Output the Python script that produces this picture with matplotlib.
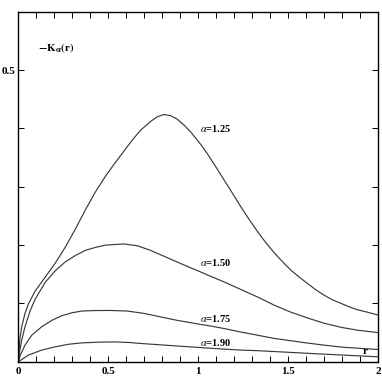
import matplotlib
matplotlib.use("Agg")
import matplotlib.pyplot as plt
from matplotlib.ticker import MultipleLocator

r_125 = [0.0, 0.0076, 0.0188, 0.037, 0.056, 0.093, 0.149, 0.205, 0.26, 0.316, 0.372, 0.428, 0.484,
         0.535, 0.567, 0.623, 0.679, 0.735, 0.772, 0.809, 0.846, 0.883, 0.92, 0.958, 1.013, 1.05,
         1.096, 1.143, 1.19, 1.236, 1.283, 1.33, 1.376, 1.422, 1.47, 1.515, 1.562, 1.608, 1.655,
         1.70, 1.747, 1.794, 1.84, 1.887, 1.94, 2.0]
k_125 = [0.0, 0.037, 0.060, 0.083, 0.099, 0.121, 0.145, 0.169, 0.196, 0.227, 0.260, 0.291, 0.318,
         0.340, 0.353, 0.376, 0.397, 0.412, 0.420, 0.424, 0.422, 0.416, 0.406, 0.394, 0.373, 0.357,
         0.335, 0.312, 0.289, 0.266, 0.244, 0.223, 0.204, 0.187, 0.171, 0.157, 0.145, 0.134, 0.123,
         0.114, 0.106, 0.100, 0.094, 0.089, 0.085, 0.080]

r_150 = [0.0, 0.0076, 0.0188, 0.037, 0.065, 0.093, 0.149, 0.205, 0.26, 0.316, 0.372, 0.428, 0.484,
         0.535, 0.586, 0.66, 0.735, 0.809, 0.883, 0.958, 1.013, 1.065, 1.143, 1.236, 1.33, 1.422,
         1.515, 1.608, 1.70, 1.794, 1.887, 2.0]
k_150 = [0.0, 0.018, 0.037, 0.060, 0.087, 0.107, 0.136, 0.156, 0.171, 0.182, 0.191, 0.196, 0.200,
         0.201, 0.202, 0.199, 0.191, 0.181, 0.171, 0.161, 0.154, 0.147, 0.137, 0.124, 0.111, 0.097,
         0.085, 0.075, 0.066, 0.059, 0.054, 0.050]

r_175 = [0.0, 0.012, 0.037, 0.075, 0.13, 0.186, 0.242, 0.298, 0.354, 0.428, 0.511, 0.604, 0.697,
         0.79, 0.883, 0.958, 1.013, 1.065, 1.143, 1.236, 1.33, 1.422, 1.515, 1.608, 1.70, 1.80,
         1.90, 2.0]
k_175 = [0.0, 0.012, 0.0285, 0.0456, 0.060, 0.071, 0.079, 0.084, 0.087, 0.0878, 0.088, 0.087, 0.083,
         0.077, 0.071, 0.067, 0.064, 0.0615, 0.057, 0.051, 0.0455, 0.040, 0.036, 0.032, 0.0285, 0.025,
         0.023, 0.021]

r_190 = [0.0, 0.056, 0.13, 0.205, 0.279, 0.354, 0.447, 0.535, 0.616, 0.697, 0.79, 0.883, 0.958,
         1.065, 1.143, 1.236, 1.33, 1.422, 1.515, 1.608, 1.70, 1.80, 1.90, 2.0]
k_190 = [0.0, 0.0114, 0.020, 0.0256, 0.030, 0.0324, 0.0336, 0.034, 0.033, 0.031, 0.029, 0.027,
         0.0255, 0.0232, 0.0217, 0.020, 0.019, 0.0175, 0.016, 0.0145, 0.013, 0.0115, 0.010, 0.0085]

series = [(r_125, k_125, r"$\alpha$=1.25", 0.40),
          (r_150, k_150, r"$\alpha$=1.50", 0.17),
          (r_175, k_175, r"$\alpha$=1.75", 0.0746),
          (r_190, k_190, r"$\alpha$=1.90", 0.0336)]

plt.rcParams['font.family'] = ['Liberation Serif', 'DejaVu Serif']
plt.rcParams['mathtext.fontset'] = 'stix'

fig = plt.figure(figsize=(3.82, 3.82), dpi=100)
ax = fig.add_axes([0.048, 0.053, 0.942, 0.916])

for r, k, lab, ly in series:
    ax.plot(r, k, color='#3a3a3a', lw=0.85)
    ax.text(1.01, ly, lab, fontsize=7.5, fontweight='bold', ha='left', va='center')

ax.text(0.11, 0.5375, r"$\mathbf{-K}_{\mathbf{\alpha}}\mathbf{(r)}$", fontsize=8, ha='left', va='center')
ax.text(1.915, 0.018, "r", fontsize=8, fontweight='bold', ha='left', va='center')

ax.set_xlim(0, 2)
ax.set_ylim(0, 0.6)
ax.set_xticks([0, 0.5, 1, 1.5, 2])
ax.set_xticklabels(["0", "0.5", "1", "1.5", "2"])
ax.xaxis.set_minor_locator(MultipleLocator(0.1))
ax.set_yticks([0.5])
ax.set_yticklabels(["0.5"])
ax.yaxis.set_minor_locator(MultipleLocator(0.1))
ax.tick_params(which='both', direction='in', top=True, right=True, length=4, width=0.7)
ax.tick_params(labelsize=8, pad=4)
for lbl in ax.get_xticklabels() + ax.get_yticklabels():
    lbl.set_fontweight('bold')
ax.tick_params(axis='y', pad=2)
for s in ax.spines.values():
    s.set_linewidth(1.0)

fig.savefig("out.png", dpi=100)
